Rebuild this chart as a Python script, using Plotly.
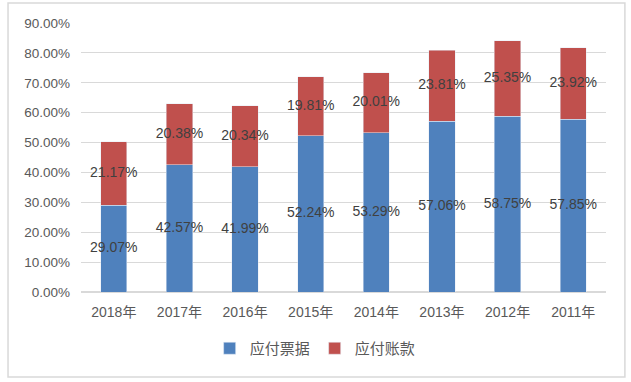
import plotly.graph_objects as go

years = ["2018年", "2017年", "2016年", "2015年", "2014年", "2013年", "2012年", "2011年"]
notes = [29.07, 42.57, 41.99, 52.24, 53.29, 57.06, 58.75, 57.85]
accounts = [21.17, 20.38, 20.34, 19.81, 20.01, 23.81, 25.35, 23.92]
y_ticks = [0, 10, 20, 30, 40, 50, 60, 70, 80, 90]

FONT = "Liberation Sans, Noto Sans CJK SC, sans-serif"
BLUE = "#4F81BD"
RED = "#C0504D"

fig = go.Figure()
fig.add_trace(go.Bar(x=years, y=notes, name="应付票据", marker_color=BLUE, width=0.4))
fig.add_trace(go.Bar(x=years, y=accounts, name="应付账款", marker_color=RED, width=0.4))

lab_x = years + years
lab_y = [n / 2 for n in notes] + [n + a / 2 for n, a in zip(notes, accounts)]
lab_t = [f"{v:.2f}%" for v in notes] + [f"{v:.2f}%" for v in accounts]
fig.add_trace(go.Scatter(x=lab_x, y=lab_y, text=lab_t, mode="text",
                         textfont=dict(size=14, color="#404040", family=FONT),
                         showlegend=False, hoverinfo="skip", cliponaxis=False))

fig.update_layout(
    barmode="stack",
    width=631, height=382,
    margin=dict(l=81, r=25, t=23, b=90),
    paper_bgcolor="white", plot_bgcolor="white",
    font=dict(family=FONT, size=13, color="#595959"),
    showlegend=True,
    legend=dict(orientation="h", x=0.446, xanchor="center", y=-0.21, yanchor="middle",
                font=dict(size=15, color="#595959"), traceorder="normal",
                itemwidth=30),
    xaxis=dict(showgrid=False, showline=False, ticks="", ticklabelstandoff=10,
               tickfont=dict(size=14, color="#595959")),
    yaxis=dict(range=[0, 90], tickvals=y_ticks, ticktext=[f"{v:.2f}%" for v in y_ticks],
               showgrid=True, gridcolor="#D9D9D9", gridwidth=1, zeroline=True,
               zerolinecolor="#D9D9D9", showline=False, ticks="", ticklabelstandoff=10,
               tickfont=dict(size=13.5, color="#595959")),
    bargap=0.6,
    shapes=[dict(type="rect", xref="paper", yref="paper", x0=-0.139, x1=1.036,
                 y0=-0.316, y1=1.074, line=dict(color="#D9D9D9", width=1.5))],
)

fig.write_html("out.html", config={"displayModeBar": False},
               post_script="document.body.style.margin='0';document.body.style.padding='0';")
